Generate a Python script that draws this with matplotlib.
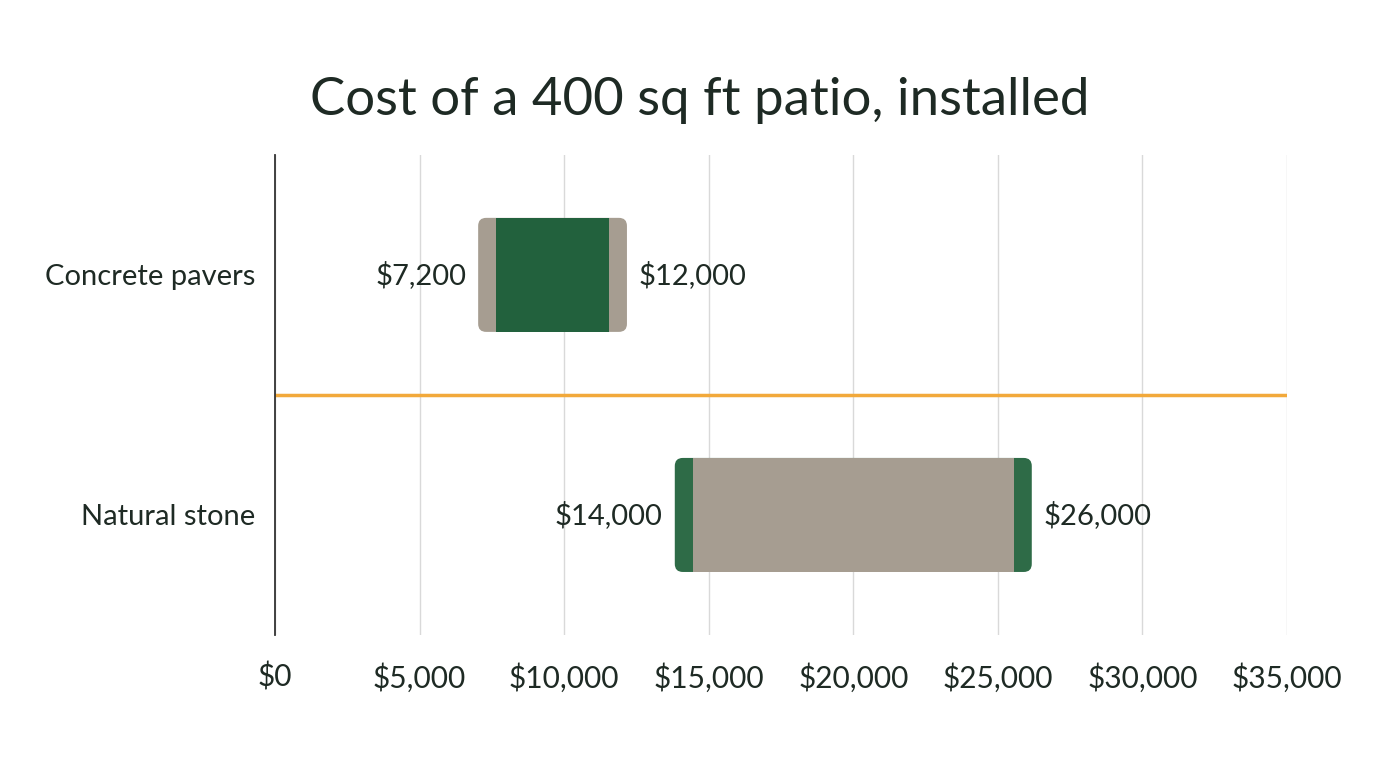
import matplotlib
matplotlib.use("Agg")
from matplotlib import pyplot as plt
from matplotlib.patches import FancyBboxPatch
from matplotlib.ticker import FuncFormatter

# data
categories = ["Natural stone", "Concrete pavers"]
low = [14000, 7200]
high = [26000, 12000]
middle_colors = ["#A69D91", "#22613D"]
cap_colors = ["#2E6B47", "#A69D91"]
xticks = [0, 5000, 10000, 15000, 20000, 25000, 30000, 35000]

plt.rcParams['font.family'] = ['Lato', 'DejaVu Sans']
text_color = "#1E2A24"

fig = plt.figure(figsize=(14, 7.82), dpi=100)
ax = fig.add_axes([0.1964, 0.188, 0.7229, 0.614])

ax.set_xlim(0, 35000)
ax.set_ylim(-0.5, 1.5)

bar_h = 0.475
cap = 620
# pixel -> data conversions for the rounded corners
px_x = 35000 / (0.7229 * 1400)
px_y = 2.0 / (0.614 * 782)
r = 8
pad = 5 * px_x

for i, cat in enumerate(categories):
    lo, hi = low[i] - pad, high[i] + pad
    box = FancyBboxPatch((lo, i - bar_h / 2), hi - lo, bar_h,
                         boxstyle="round,pad=0,rounding_size=%f" % (r * px_x),
                         mutation_aspect=px_y / px_x,
                         facecolor=cap_colors[i], edgecolor="none", zorder=3)
    ax.add_patch(box)
    ax.barh(i, (hi - cap) - (lo + cap), left=lo + cap, height=bar_h,
            color=middle_colors[i], zorder=4)
    ax.text(lo - 12 * px_x, i, "${:,}".format(low[i]), ha="right", va="center",
            fontsize=21, color=text_color)
    ax.text(hi + 12 * px_x, i, "${:,}".format(high[i]), ha="left", va="center",
            fontsize=21, color=text_color)

# divider between categories
ax.axhline(0.5, color="#F2A93B", lw=2.5, zorder=2)

ax.set_yticks(range(len(categories)))
ax.set_yticklabels(categories, fontsize=21, color=text_color)
ax.set_xticks(xticks)
ax.xaxis.set_major_formatter(FuncFormatter(lambda v, p: "${:,.0f}".format(v)))
ax.tick_params(axis="x", length=0, pad=20, labelsize=21.5, labelcolor=text_color)
ax.tick_params(axis="y", length=0, pad=14)

ax.grid(axis="x", color="#D9D9D9", lw=1, zorder=0)
ax.set_axisbelow(True)
for s in ["top", "right", "bottom"]:
    ax.spines[s].set_visible(False)
ax.spines["left"].set_color("#333333")
ax.spines["left"].set_linewidth(1.3)
ax.spines["left"].set_zorder(5)

fig.text(0.5, 0.872, "Cost of a 400 sq ft patio, installed", ha="center",
         va="center", fontsize=38, color=text_color)

fig.savefig("out.png", dpi=100, facecolor="white")
